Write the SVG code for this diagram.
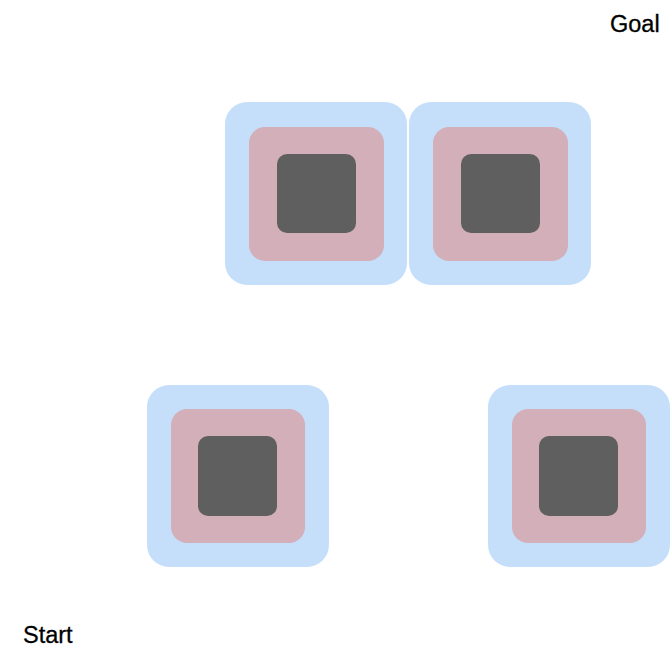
<svg xmlns="http://www.w3.org/2000/svg" width="670" height="656" viewBox="0 0 670 656">
<style>
.outer{fill:#C5DFFB}
.mid{fill:#D3AFB9}
.core{fill:#5F5F5F}
.lbl{font-family:"Liberation Sans",Arial,sans-serif;font-size:23.5px;fill:#000;stroke:#000;stroke-width:0.3}
</style>
<rect width="670" height="656" fill="#fff"/>
<g id="node-top-left">
<rect class="outer" x="225" y="102" width="182" height="183" rx="22"/>
<rect class="mid" x="249" y="127" width="135" height="134" rx="16"/>
<rect class="core" x="277" y="154" width="79" height="79" rx="10"/>
</g>
<g id="node-top-right">
<rect class="outer" x="409" y="102" width="182" height="183" rx="22"/>
<rect class="mid" x="433" y="127" width="135" height="134" rx="16"/>
<rect class="core" x="461" y="154" width="79" height="79" rx="10"/>
</g>
<g id="node-bottom-left">
<rect class="outer" x="147" y="385" width="182" height="182" rx="22"/>
<rect class="mid" x="171" y="409" width="134" height="134" rx="16"/>
<rect class="core" x="198" y="436" width="79" height="80" rx="10"/>
</g>
<g id="node-bottom-right">
<rect class="outer" x="488" y="385" width="182" height="182" rx="22"/>
<rect class="mid" x="512" y="409" width="134" height="134" rx="16"/>
<rect class="core" x="539" y="436" width="79" height="80" rx="10"/>
</g>
<g id="connectors"></g>
<g id="label-goal"><text class="lbl" x="610" y="32">Goal</text></g>
<g id="label-start"><text class="lbl" x="23" y="643">Start</text></g>
</svg>
